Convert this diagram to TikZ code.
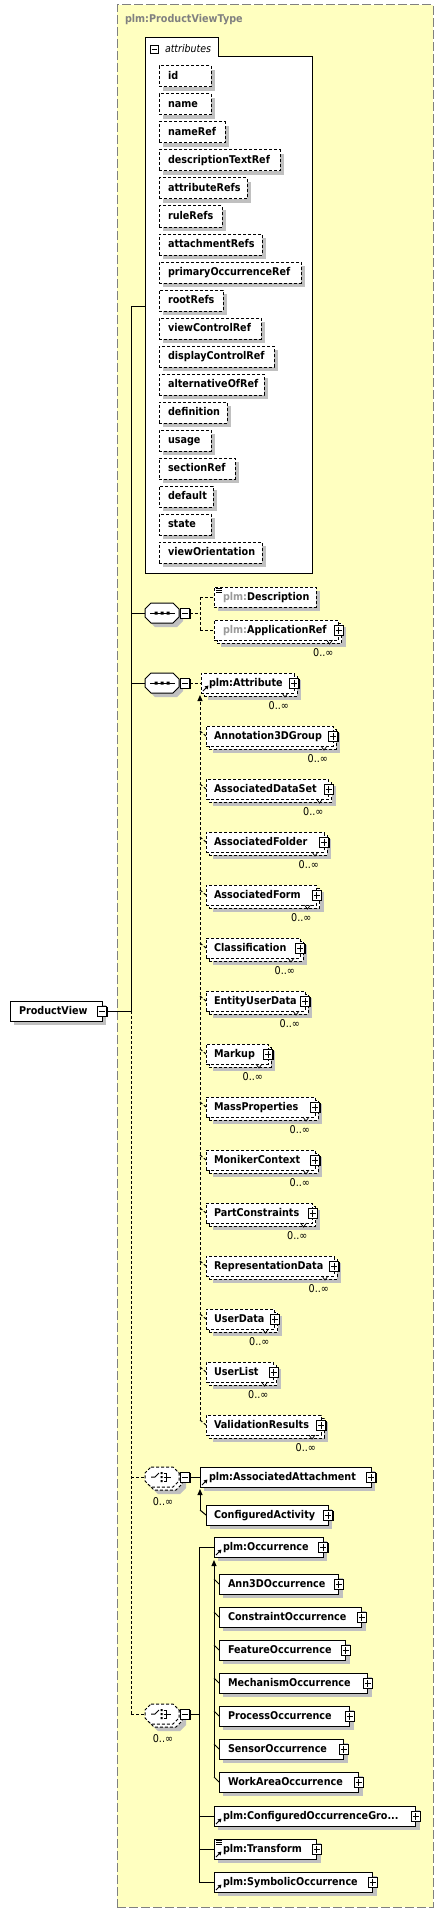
\documentclass[tikz,border=0pt]{standalone}
\usepackage{fontspec}
\setmainfont{DejaVu Sans}[FakeStretch=0.9]
\usetikzlibrary{arrows.meta,shadows}
\definecolor{ybg}{HTML}{FFFFC0}
\definecolor{shgrey}{HTML}{C0C0C0}
\definecolor{bgrey}{HTML}{808080}
\definecolor{pgrey}{HTML}{9A9A9A}
\newcommand{\elf}{\fontsize{10.7}{13}\selectfont\bfseries}
\newcommand{\occf}{\fontsize{10.7}{13}\selectfont}
\newcommand{\itf}{\fontsize{10.5}{13}\selectfont\itshape}
\newcommand{\pfx}{\textcolor{pgrey}{plm:}}
\tikzset{
  x=1pt, y=-1pt,
  every node/.style={inner sep=0pt, outer sep=0pt},
  lw/.style={line width=1pt},
  dsh/.style={dash pattern=on 3pt off 2pt},
  typebox/.style={rectangle, draw=bgrey, line width=1pt, dash pattern=on 9pt off 3pt, fill=ybg, minimum width=316pt, minimum height=1902pt, anchor=north west},
  ebox/.style={rectangle, draw=black, fill=white, line width=1pt, minimum height=20pt, anchor=north west},
  esh/.style={drop shadow={shadow xshift=4pt, shadow yshift=-4pt, opacity=1, fill=shgrey}},
  lbl/.style={font=\elf, text height=8pt, text depth=0pt, anchor=west},
  occlbl/.style={font=\occf, text height=7pt, text depth=0pt, anchor=east},
  pmbox/.style={rectangle, draw=black, fill=white, line width=1pt, minimum width=9pt, minimum height=10pt, drop shadow={shadow xshift=1.3pt, shadow yshift=-1.3pt, opacity=1, fill=black}},
  plusbox/.style={pmbox, path picture={\draw[line width=1pt] ([xshift=-3pt]path picture bounding box.center) -- ([xshift=3pt]path picture bounding box.center) ([yshift=-3.5pt]path picture bounding box.center) -- ([yshift=3.5pt]path picture bounding box.center);}},
  minusbox/.style={pmbox, path picture={\draw[line width=1pt] ([xshift=-3pt]path picture bounding box.center) -- ([xshift=3pt]path picture bounding box.center);}},
  minusflat/.style={rectangle, draw=black, fill=white, line width=1pt, minimum width=8pt, minimum height=8pt, path picture={\draw[line width=1pt] ([xshift=-2.5pt]path picture bounding box.center) -- ([xshift=2.5pt]path picture bounding box.center);}},
  subarrow/.style={-{Triangle[width=5pt,length=6pt]}},
  hidden/.style={rectangle, minimum width=34pt, minimum height=20pt, anchor=west},
}
% single element box: name, L, T, R, opts, textx, text
\newcommand{\ElemS}[7]{%
  \node[ebox,esh,#5,minimum width={#4-#2}] (#1) at (#2,#3) {};
  \node[lbl] (#1-t) at (#6,{#3+9.5}) {#7};
}
% multiple element box
\newcommand{\ElemM}[7]{%
  \node[ebox,esh,#5,minimum width={#4-#2}] (#1-b) at ({#2+3},{#3+3}) {};
  \node[ebox,#5,minimum width={#4-#2}] (#1) at (#2,#3) {};
  \node[lbl] (#1-t) at (#6,{#3+9.5}) {#7};
  \draw[line width=0.7pt] ({#4-12},{#3+20}) -- ({#4-9},{#3+24}) -- ({#4-6},{#3+20});
  \node[occlbl] (#1-o) at ({#4-5},{#3+33}) {0..∞};
}
\newcommand{\RefIcon}[2]{\draw[line width=1pt,-{Triangle[width=4pt,length=3.5pt]}] ({#1+2},{#2-2}) -- ({#1+7.5},{#2-7.5});}
\newcommand{\DocIcon}[2]{\draw[line width=0.7pt] ({#1+2},{#2+1.5}) -- ({#1+8},{#2+1.5}) ({#1+2},{#2+3.5}) -- ({#1+8},{#2+3.5}) ({#1+2},{#2+5.5}) -- ({#1+8},{#2+5.5});}
\newcommand{\Octa}[3]{\draw[#3,shift={(#1,#2)}] (6,-10) -- (28,-10) -- (34,-4) -- (34,4) -- (28,10) -- (6,10) -- (0,4) -- (0,-4) -- cycle;}
\newcommand{\SeqIcon}[2]{\begin{scope}[shift={(#1,#2)}]
  \draw[lw] (-12,0) -- (13,0);
  \fill (-7.5,-1.5) rectangle (-4.5,1.5) (-1.5,-1.5) rectangle (1.5,1.5) (4.5,-1.5) rectangle (7.5,1.5);
\end{scope}}
\newcommand{\ChIcon}[2]{\begin{scope}[shift={(#1,#2)}]
  \draw[lw] (-11,0) -- (-7,0) -- (-3,-4);
  \fill (-1.5,-5) rectangle (0.5,-3) (-1.5,-1) rectangle (0.5,1) (-1.5,3) rectangle (0.5,5);
  \draw[lw] (1.5,-4) -- (4.5,-4) -- (4.5,4) -- (1.5,4) (1.5,0) -- (9,0);
\end{scope}}
\begin{document}
\begin{tikzpicture}
\path[use as bounding box, fill=white] (0,0) rectangle (444,1913);
\node[typebox] (type) at (117,5) {};
\node[lbl,text=bgrey] (type-t) at (125,19) {plm:ProductViewType};

% attributes container
\node[rectangle, anchor=north west, minimum width=167pt, minimum height=535pt] (attrs) at (145,38) {};
\draw[lw,fill=white] (145,38) -- (218,38) -- (218,57) -- (312,57) -- (312,573) -- (145,573) -- cycle;
\node[minusflat] (attrs-m) at (154,49.5) {};
\node[anchor=west,font=\itf,text height=8pt,text depth=0pt] (attrs-t) at (165,48.5) {attributes};
\foreach \nm/\r [count=\i from 0] in {id/211, name/211, nameRef/225, descriptionTextRef/280, attributeRefs/247, ruleRefs/222, attachmentRefs/262, primaryOccurrenceRef/301, rootRefs/223, viewControlRef/261, displayControlRef/274, alternativeOfRef/264, definition/227, usage/211, sectionRef/235, default/213, state/211, viewOrientation/262} {
  \ElemS{a\i}{159}{66+28*\i}{\r}{dsh,minimum height=21pt}{168}{\nm}
}

% root element
\ElemS{pv}{10}{1001}{102}{}{19}{ProductView}
\node[minusbox] (pv-m) at (pv.east) {};

% main trunk
\coordinate (mA) at (131,306);
\coordinate (mS1) at (131,613);
\coordinate (mS2) at (131,683);
\coordinate (mPV) at (131,1011);
\coordinate (mC1) at (131,1477);
\coordinate (mC2) at (131,1714);
\draw[lw] (mA) -- (mPV);
\draw[lw,dsh] (mPV) -- (mC2);
\draw[lw] (mA) -- (mA -| attrs.west);
\draw[lw] (pv-m.east) -- (mPV);

% sequence 1
\Octa{149}{617}{fill=shgrey,draw=none}
\Octa{145}{613}{lw,fill=white}
\SeqIcon{162}{613}
\node[hidden] (seq1) at (145,613) {};
\node[minusbox] (seq1-m) at (185,613) {};
\draw[lw] (mS1) -- (seq1.west);
\ElemS{desc}{214}{587}{316}{dsh}{223}{\pfx Description}
\DocIcon{214}{587}
\ElemM{appref}{214}{620}{338.5}{dsh}{223}{\pfx ApplicationRef}
\node[plusbox] (appref-p) at (appref.east) {};
\coordinate (s1j) at (200,613);
\draw[lw,dsh] (seq1-m.east) -- (s1j);
\draw[lw,dsh] (desc.west -| s1j) -- (appref.west -| s1j);
\draw[lw,dsh] (desc.west -| s1j) -- (desc.west);
\draw[lw,dsh] (appref.west -| s1j) -- (appref.west);

% sequence 2
\Octa{149}{687}{fill=shgrey,draw=none}
\Octa{145}{683}{lw,fill=white}
\SeqIcon{162}{683}
\node[hidden] (seq2) at (145,683) {};
\node[minusbox] (seq2-m) at (185,683) {};
\draw[lw] (mS2) -- (seq2.west);
\ElemM{attr}{201}{673}{294}{dsh}{209}{plm:Attribute}
\node[plusbox] (attr-p) at (attr.east) {};
\RefIcon{201}{693}
\draw[lw,dsh] (seq2-m.east) -- (attr.west);

\foreach \nm/\r [count=\i from 0] in {Annotation3DGroup/333, AssociatedDataSet/328.5, AssociatedFolder/324, AssociatedForm/316.5, Classification/300, EntityUserData/305, Markup/268, MassProperties/315, MonikerContext/315, PartConstraints/312.5, RepresentationData/334, UserData/274.5, UserList/273.5, ValidationResults/321} {
  \ElemM{g\i}{206}{726+53*\i}{\r}{dsh}{214}{\nm}
  \node[plusbox] (g\i-p) at (g\i.east) {};
  \coordinate (gk\i) at (200,{726+53*\i+5});
  \draw[lw,dsh] (gk\i) -- (g\i.west);
}
\coordinate (gTop) at (200,695);
\draw[lw,dsh,subarrow] (gk13) -- (gTop);

% choice 1
\Octa{152}{1484}{fill=shgrey,draw=none}
\Octa{148}{1480}{lw,dsh,fill=white}
\Octa{145}{1477}{lw,dsh,fill=white}
\ChIcon{162}{1477}
\node[hidden] (ch1) at (145,1477) {};
\node[minusbox] (ch1-m) at (185,1477) {};
\node[occlbl,anchor=center] (ch1-o) at (163,1501.5) {0..∞};
\draw[lw,dsh] (mC1) -- (ch1.west);
\ElemS{aa}{200}{1467}{371}{}{209}{plm:AssociatedAttachment}
\node[plusbox] (aa-p) at (aa.east) {};
\RefIcon{200}{1487}
\draw[lw] (ch1-m.east) -- (aa.west);
\ElemS{ca}{206}{1505}{328}{}{214}{ConfiguredActivity}
\node[plusbox] (ca-p) at (ca.east) {};
\coordinate (caK) at (200,1510);
\coordinate (aaTip) at (200,1489);
\draw[lw,subarrow] (caK) -- (aaTip);
\draw[lw] (caK) -- (ca.west);

% choice 2
\Octa{152}{1721}{fill=shgrey,draw=none}
\Octa{148}{1717}{lw,dsh,fill=white}
\Octa{145}{1714}{lw,dsh,fill=white}
\ChIcon{162}{1714}
\node[hidden] (ch2) at (145,1714) {};
\node[minusbox] (ch2-m) at (185,1714) {};
\node[occlbl,anchor=center] (ch2-o) at (163,1738.5) {0..∞};
\draw[lw,dsh] (mC2) -- (ch2.west);
\coordinate (c2j) at (199,1714);
\draw[lw] (ch2-m.east) -- (c2j);

\ElemS{occ}{214}{1537}{323}{}{223}{plm:Occurrence}
\node[plusbox] (occ-p) at (occ.east) {};
\RefIcon{214}{1557}
\foreach \nm/\r [count=\i from 0] in {Ann3DOccurrence/338.5, ConstraintOccurrence/361.5, FeatureOccurrence/345.5, MechanismOccurrence/367.5, ProcessOccurrence/349.5, SensorOccurrence/343.5, WorkAreaOccurrence/358.5} {
  \ElemS{o\i}{219}{1574+33*\i}{\r}{}{228}{\nm}
  \node[plusbox] (o\i-p) at (o\i.east) {};
  \coordinate (ok\i) at (214,{1574+33*\i+5});
  \draw[lw] (ok\i) -- (o\i.west);
}
\coordinate (oTop) at (214,1560);
\draw[lw,subarrow] (ok6) -- (oTop);

\ElemS{cog}{214}{1806}{415.5}{}{223}{plm:ConfiguredOccurrenceGro...}
\node[plusbox] (cog-p) at (cog.east) {};
\RefIcon{214}{1826}
\ElemS{tr}{214}{1839}{316.5}{}{223}{plm:Transform}
\node[plusbox] (tr-p) at (tr.east) {};
\RefIcon{214}{1859}
\DocIcon{214}{1839}
\ElemS{sym}{214}{1872}{372.5}{}{223}{plm:SymbolicOccurrence}
\node[plusbox] (sym-p) at (sym.east) {};
\RefIcon{214}{1892}

\draw[lw] (occ.west -| c2j) -- (sym.west -| c2j);
\draw[lw] (occ.west -| c2j) -- (occ.west);
\draw[lw] (cog.west -| c2j) -- (cog.west);
\draw[lw] (tr.west -| c2j) -- (tr.west);
\draw[lw] (sym.west -| c2j) -- (sym.west);
\end{tikzpicture}
\end{document}
